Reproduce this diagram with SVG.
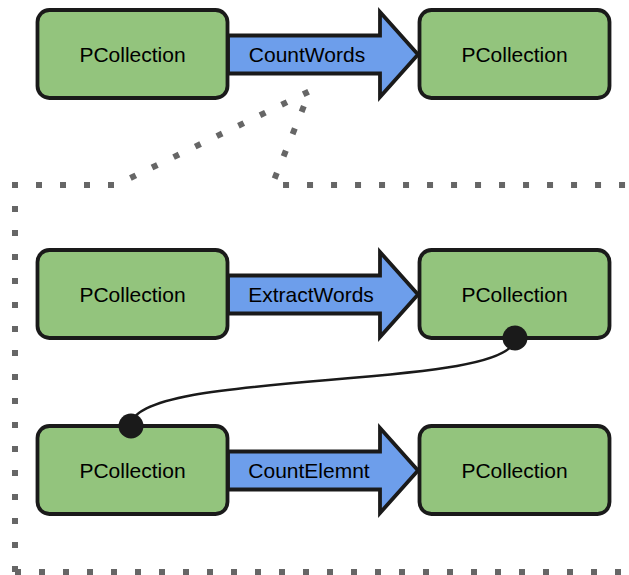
<svg xmlns="http://www.w3.org/2000/svg" width="629" height="575" viewBox="0 0 629 575">
  <style>
    .node rect { fill: #93c47d; stroke: #1a1a1a; stroke-width: 3.8; }
    .label { font-family: "Liberation Sans", Arial, sans-serif; font-size: 21px; fill: #000; text-anchor: middle; }
    .arrow path { fill: #6d9eeb; stroke: #1a1a1a; stroke-width: 3.8; stroke-linejoin: miter; }
    .frame { fill: none; stroke: #666; stroke-width: 6; stroke-dasharray: 6 18; }
    .link { fill: none; stroke: #1a1a1a; stroke-width: 2.5; }
    .dot { fill: #1a1a1a; }
  </style>
  <rect width="629" height="575" fill="#fff"/>
  <g id="frame">
    <path class="frame" d="M15 572 L15 185 L116 185 L310 91 L272 185 L629 185"/>
    <path class="frame" d="M15 572 L629 572"/>
  </g>
  <g id="connectors">
    <g class="arrow" id="countwords">
      <path d="M228 35.5 L380 35.5 L380 12 L418 54.5 L380 97 L380 73.5 L228 73.5 Z"/>
      <text class="label" x="307" y="62">CountWords</text>
    </g>
    <g class="arrow" id="extractwords">
      <path d="M228 275.5 L380 275.5 L380 252 L418 294.5 L380 337 L380 313.5 L228 313.5 Z"/>
      <text class="label" x="311" y="302">ExtractWords</text>
    </g>
    <g class="arrow" id="countelemnt">
      <path d="M228 451.5 L380 451.5 L380 428 L418 470.5 L380 513 L380 489.5 L228 489.5 Z"/>
      <text class="label" x="309" y="478">CountElemnt</text>
    </g>
    <path class="link" d="M515 338 C515 392 131 368 131 426"/>
  </g>
  <g id="n1" class="node"><rect x="37.5" y="10" width="190" height="88" rx="12"/><text class="label" x="132.5" y="62">PCollection</text></g>
  <g id="n2" class="node"><rect x="419.5" y="10" width="190" height="88" rx="12"/><text class="label" x="514.5" y="62">PCollection</text></g>
  <g id="n3" class="node"><rect x="37.5" y="250" width="190" height="88" rx="12"/><text class="label" x="132.5" y="302">PCollection</text></g>
  <g id="n4" class="node"><rect x="419.5" y="250" width="190" height="88" rx="12"/><text class="label" x="514.5" y="302">PCollection</text></g>
  <g id="n5" class="node"><rect x="37.5" y="426" width="190" height="88" rx="12"/><text class="label" x="132.5" y="478">PCollection</text></g>
  <g id="n6" class="node"><rect x="419.5" y="426" width="190" height="88" rx="12"/><text class="label" x="514.5" y="478">PCollection</text></g>
  <g id="ports">
    <circle class="dot" cx="515" cy="338" r="12.5"/>
    <circle class="dot" cx="131" cy="426" r="12.5"/>
  </g>
</svg>
